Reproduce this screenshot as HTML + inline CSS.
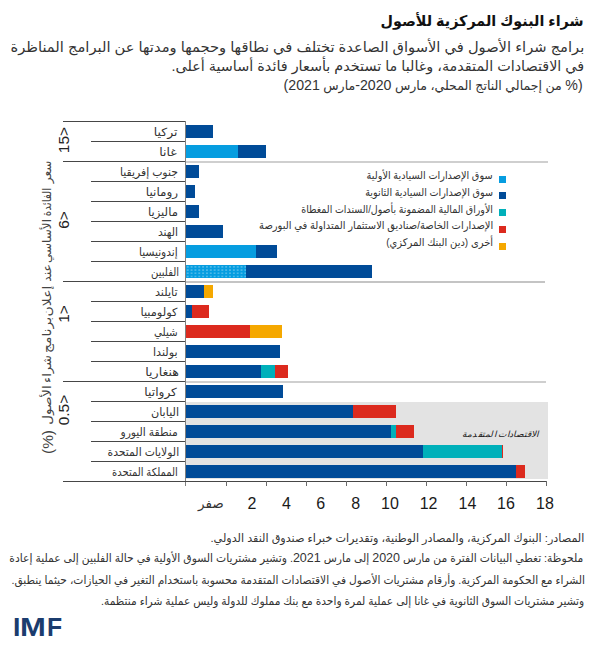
<!DOCTYPE html>
<html lang="ar"><head><meta charset="utf-8"><title>شراء البنوك المركزية للأصول</title>
<style>
html,body{margin:0;padding:0;background:#fff;}
body{width:600px;height:650px;position:relative;overflow:hidden;font-family:"Liberation Sans","DejaVu Sans",sans-serif;color:#1a1a1a;}
.t{position:absolute;white-space:nowrap;direction:rtl;line-height:1;transform-origin:100% 50%;color:#333;}
#title{color:#111;}
#adv{color:#1a1a1a;}
.n{font-family:"Liberation Sans",sans-serif;font-size:13px;line-height:0;}
.ln{position:absolute;height:1px;background:#464646;}
.gl{position:absolute;height:1.5px;background:#cfcfcf;}
.bar{position:absolute;height:13px;}
.num{position:absolute;font-size:16px;line-height:1;white-space:nowrap;transform:translateX(-50%);}
.rot{position:absolute;white-space:nowrap;line-height:1;color:#222;}
[id^=ax]{color:#444;}
.sw{position:absolute;left:499px;width:7px;height:7px;}
.logo{position:absolute;top:615.4px;font-family:'Liberation Sans',sans-serif;font-weight:bold;font-size:24.9px;line-height:1;color:#1b3c6e;transform-origin:0 50%;}
</style></head><body>

<div style="position:absolute;left:186px;top:402px;width:362px;height:77px;background:#e3e3e3;"></div>
<div class="gl" style="left:186px;top:161px;width:362px;"></div>
<div class="gl" style="left:186px;top:281px;width:359px;background:#c4c4c4"></div>
<div class="gl" style="left:186px;top:381px;width:360px;"></div>
<div class="ln" style="left:63px;top:121px;width:123px;"></div>
<div class="ln" style="left:91px;top:141px;width:95px;"></div>
<div class="ln" style="left:63px;top:161px;width:123px;"></div>
<div class="ln" style="left:91px;top:181px;width:95px;"></div>
<div class="ln" style="left:91px;top:201px;width:95px;"></div>
<div class="ln" style="left:91px;top:221px;width:95px;"></div>
<div class="ln" style="left:91px;top:241px;width:95px;"></div>
<div class="ln" style="left:91px;top:261px;width:95px;"></div>
<div class="ln" style="left:63px;top:281px;width:123px;"></div>
<div class="ln" style="left:91px;top:301px;width:95px;"></div>
<div class="ln" style="left:91px;top:321px;width:95px;"></div>
<div class="ln" style="left:91px;top:341px;width:95px;"></div>
<div class="ln" style="left:91px;top:361px;width:95px;"></div>
<div class="ln" style="left:63px;top:381px;width:123px;"></div>
<div class="ln" style="left:91px;top:401px;width:95px;"></div>
<div class="ln" style="left:91px;top:421px;width:95px;"></div>
<div class="ln" style="left:91px;top:441px;width:95px;"></div>
<div class="ln" style="left:91px;top:461px;width:95px;"></div>
<div class="ln" style="left:63px;top:481px;width:123px;"></div>
<div class="ln" style="left:185px;top:121px;width:1px;height:365px;background:#808080;"></div>
<div class="ln" style="left:185px;top:481px;width:361px;"></div>
<div class="ln" style="left:225.5px;top:481px;width:1px;height:5px;background:#6a6a6a;"></div>
<div class="ln" style="left:265.5px;top:481px;width:1px;height:5px;background:#6a6a6a;"></div>
<div class="ln" style="left:305.5px;top:481px;width:1px;height:5px;background:#6a6a6a;"></div>
<div class="ln" style="left:345.5px;top:481px;width:1px;height:5px;background:#6a6a6a;"></div>
<div class="ln" style="left:385.5px;top:481px;width:1px;height:5px;background:#6a6a6a;"></div>
<div class="ln" style="left:425.5px;top:481px;width:1px;height:5px;background:#6a6a6a;"></div>
<div class="ln" style="left:465.5px;top:481px;width:1px;height:5px;background:#6a6a6a;"></div>
<div class="ln" style="left:505.5px;top:481px;width:1px;height:5px;background:#6a6a6a;"></div>
<div class="ln" style="left:545.5px;top:481px;width:1px;height:5px;background:#6a6a6a;"></div>
<div class="bar" style="left:186.00px;top:125px;width:27.37px;background:#004b98;"></div>
<div class="bar" style="left:186.00px;top:145px;width:51.95px;background:#069de0;"></div>
<div class="bar" style="left:237.95px;top:145px;width:27.97px;background:#004b98;"></div>
<div class="bar" style="left:186.00px;top:165px;width:13.39px;background:#004b98;"></div>
<div class="bar" style="left:186.00px;top:185px;width:8.79px;background:#004b98;"></div>
<div class="bar" style="left:186.00px;top:205px;width:13.39px;background:#004b98;"></div>
<div class="bar" style="left:186.00px;top:225px;width:36.56px;background:#004b98;"></div>
<div class="bar" style="left:186.00px;top:245px;width:69.93px;background:#069de0;"></div>
<div class="bar" style="left:255.93px;top:245px;width:20.98px;background:#004b98;"></div>
<div class="bar" style="left:186.00px;top:265px;width:59.94px;background:#069de0;background-image:radial-gradient(circle,rgba(255,255,255,.5) 0 0.45px,transparent 0.85px);background-size:3.85px 3.2px;background-position:-0.2px 0.3px;"></div>
<div class="bar" style="left:245.94px;top:265px;width:125.87px;background:#004b98;"></div>
<div class="bar" style="left:186.00px;top:285px;width:17.98px;background:#004b98;"></div>
<div class="bar" style="left:203.98px;top:285px;width:8.79px;background:#f5a800;"></div>
<div class="bar" style="left:186.00px;top:305px;width:5.79px;background:#004b98;"></div>
<div class="bar" style="left:191.79px;top:305px;width:16.78px;background:#dc2a1e;"></div>
<div class="bar" style="left:186.00px;top:325px;width:63.94px;background:#dc2a1e;"></div>
<div class="bar" style="left:249.94px;top:325px;width:32.37px;background:#f5a800;"></div>
<div class="bar" style="left:186.00px;top:345px;width:93.91px;background:#004b98;"></div>
<div class="bar" style="left:186.00px;top:365px;width:74.93px;background:#004b98;"></div>
<div class="bar" style="left:260.93px;top:365px;width:14.39px;background:#00b0ba;"></div>
<div class="bar" style="left:275.31px;top:365px;width:12.59px;background:#dc2a1e;"></div>
<div class="bar" style="left:186.00px;top:385px;width:97.10px;background:#004b98;"></div>
<div class="bar" style="left:186.00px;top:405px;width:167.43px;background:#004b98;"></div>
<div class="bar" style="left:353.43px;top:405px;width:42.36px;background:#dc2a1e;"></div>
<div class="bar" style="left:186.00px;top:425px;width:205.19px;background:#004b98;"></div>
<div class="bar" style="left:391.19px;top:425px;width:4.99px;background:#00b0ba;"></div>
<div class="bar" style="left:396.19px;top:425px;width:17.58px;background:#dc2a1e;"></div>
<div class="bar" style="left:186.00px;top:445px;width:237.36px;background:#004b98;"></div>
<div class="bar" style="left:423.36px;top:445px;width:78.32px;background:#00b0ba;"></div>
<div class="bar" style="left:501.68px;top:445px;width:1.00px;background:#dc2a1e;"></div>
<div class="bar" style="left:186.00px;top:465px;width:329.67px;background:#004b98;"></div>
<div class="bar" style="left:515.67px;top:465px;width:9.79px;background:#dc2a1e;"></div>
<div class="sw" style="top:175.5px;background:#069de0;"></div>
<div class="sw" style="top:192.3px;background:#004b98;"></div>
<div class="sw" style="top:209.1px;background:#00b0ba;"></div>
<div class="sw" style="top:225.9px;background:#dc2a1e;"></div>
<div class="sw" style="top:242.7px;background:#f5a800;"></div>
<div class="t" id="title" style="right:16.20px;top:13.57px;font-size:14.8px;font-weight:bold;transform:scaleX(0.9686);">شراء البنوك المركزية للأصول</div>
<div class="t" id="l1" style="right:16.00px;top:40.08px;font-size:14.2px;transform:scaleX(1.0353);">برامج شراء الأصول في الأسواق الصاعدة تختلف في نطاقها وحجمها ومدتها عن البرامج المناظرة</div>
<div class="t" id="l2" style="right:16.00px;top:59.08px;font-size:14.2px;transform:scaleX(1.0136);">في الاقتصادات المتقدمة، وغالبا ما تستخدم بأسعار فائدة أساسية أعلى.</div>
<div class="t" id="l3" style="right:17.00px;top:80.08px;font-size:12.9px;transform:scaleX(0.9753);"><span class="n" style="font-size:14.5px">(%</span> من إجمالي الناتج المحلي، مارس <span class="n" style="font-size:14.5px">2020-</span>مارس <span class="n" style="font-size:14.5px">2021)</span></div>
<div class="t" id="lab0" style="right:422.20px;top:126.92px;font-size:11.2px;transform:scaleX(1.1039);">تركيا</div>
<div class="t" id="lab1" style="right:423.20px;top:146.92px;font-size:11.2px;transform:scaleX(1.1135);">غانا</div>
<div class="t" id="lab2" style="right:422.20px;top:166.92px;font-size:11.2px;transform:scaleX(0.9670);">جنوب إفريقيا</div>
<div class="t" id="lab3" style="right:422.20px;top:186.92px;font-size:11.2px;transform:scaleX(1.0721);">رومانيا</div>
<div class="t" id="lab4" style="right:422.20px;top:206.92px;font-size:11.2px;transform:scaleX(1.0370);">ماليزيا</div>
<div class="t" id="lab5" style="right:422.20px;top:226.92px;font-size:11.2px;transform:scaleX(0.9550);">الهند</div>
<div class="t" id="lab6" style="right:422.20px;top:246.92px;font-size:11.2px;transform:scaleX(0.9507);">إندونيسيا</div>
<div class="t" id="lab7" style="right:421.20px;top:266.92px;font-size:11.2px;transform:scaleX(0.9013);">الفلبين</div>
<div class="t" id="lab8" style="right:422.20px;top:286.92px;font-size:11.2px;transform:scaleX(1.0026);">تايلند</div>
<div class="t" id="lab9" style="right:422.20px;top:306.92px;font-size:11.2px;transform:scaleX(1.0157);">كولومبيا</div>
<div class="t" id="lab10" style="right:422.20px;top:326.92px;font-size:11.2px;transform:scaleX(0.9241);">شيلي</div>
<div class="t" id="lab11" style="right:422.20px;top:346.92px;font-size:11.2px;transform:scaleX(1.0019);">بولندا</div>
<div class="t" id="lab12" style="right:421.20px;top:366.92px;font-size:11.2px;transform:scaleX(1.1255);">هنغاريا</div>
<div class="t" id="lab13" style="right:423.20px;top:386.92px;font-size:11.2px;transform:scaleX(1.0881);">كرواتيا</div>
<div class="t" id="lab14" style="right:421.20px;top:406.92px;font-size:11.2px;transform:scaleX(1.0017);">اليابان</div>
<div class="t" id="lab15" style="right:422.20px;top:426.92px;font-size:11.2px;transform:scaleX(0.9589);">منطقة اليورو</div>
<div class="t" id="lab16" style="right:421.20px;top:446.92px;font-size:11.2px;transform:scaleX(0.9662);">الولايات المتحدة</div>
<div class="t" id="lab17" style="right:422.20px;top:466.92px;font-size:11.2px;transform:scaleX(0.8906);">المملكة المتحدة</div>
<div class="t" id="leg0" style="right:107.00px;top:169.73px;font-size:10.6px;transform:scaleX(0.9155);">سوق الإصدارات السيادية الأولية</div>
<div class="t" id="leg1" style="right:107.00px;top:186.63px;font-size:10.6px;transform:scaleX(0.9065);">سوق الإصدارات السيادية الثانوية</div>
<div class="t" id="leg2" style="right:107.00px;top:203.53px;font-size:10.6px;transform:scaleX(0.8920);">الأوراق المالية المضمونة بأصول/السندات المغطاة</div>
<div class="t" id="leg3" style="right:107.00px;top:220.43px;font-size:10.6px;transform:scaleX(0.9358);">الإصدارات الخاصة/صناديق الاستثمار المتداولة في البورصة</div>
<div class="t" id="leg4" style="right:107.00px;top:237.33px;font-size:10.6px;transform:scaleX(0.9375);">أخرى (دين البنك المركزي)</div>
<div class="t" id="note0" style="right:15.40px;top:532.92px;font-size:11.2px;transform:scaleX(0.9987);">المصادر: البنوك المركزية، والمصادر الوطنية، وتقديرات خبراء صندوق النقد الدولي.</div>
<div class="t" id="note1" style="right:16.40px;top:553.42px;font-size:11.2px;transform:scaleX(0.9610);">ملحوظة: تغطي البيانات الفترة من مارس <span class="n">2020</span> إلى مارس <span class="n">2021</span>. وتشير مشتريات السوق الأولية في حالة الفلبين إلى عملية إعادة</div>
<div class="t" id="note2" style="right:15.40px;top:574.52px;font-size:11.2px;transform:scaleX(0.9543);">الشراء مع الحكومة المركزية. وأرقام مشتريات الأصول في الاقتصادات المتقدمة محسوبة باستخدام التغير في الحيازات، حيثما ينطبق.</div>
<div class="t" id="note3" style="right:15.40px;top:595.52px;font-size:11.2px;transform:scaleX(0.9507);">وتشير مشتريات السوق الثانوية في غانا إلى عملية لمرة واحدة مع بنك مملوك للدولة وليس عملية شراء منتظمة.</div>
<div class="t" id="adv" style="right:61.60px;top:429.72px;font-size:8.6px;font-style:italic;transform:scaleX(1.0568);">الاقتصادات المتقدمة</div>
<div class="t" id="zero" style="right:376.40px;top:496.50px;font-size:13px;transform:scaleX(1.0429);">صفر</div>
<div class="num" style="left:252px;top:495.96px;">2</div>
<div class="num" style="left:286.5px;top:495.96px;">4</div>
<div class="num" style="left:320.8px;top:495.96px;">6</div>
<div class="num" style="left:355.6px;top:495.96px;">8</div>
<div class="num" style="left:390px;top:495.96px;">10</div>
<div class="num" style="left:428.6px;top:495.96px;">12</div>
<div class="num" style="left:467.5px;top:495.96px;">14</div>
<div class="num" style="left:506px;top:495.96px;">16</div>
<div class="num" style="left:545px;top:495.96px;">18</div>
<div class="rot" id="g15" dir="ltr" style="left:63.5px;top:140.20px;font-size:15.5px;transform:translate(-50%,-50%) rotate(-90deg) scaleX(1.0000);">15&gt;</div>
<div class="rot" id="g6" dir="ltr" style="left:63.5px;top:219.60px;font-size:15.5px;transform:translate(-50%,-50%) rotate(-90deg) scaleX(1.0000);">6&gt;</div>
<div class="rot" id="g1" dir="ltr" style="left:63.5px;top:313.80px;font-size:15.5px;transform:translate(-50%,-50%) rotate(-90deg) scaleX(1.0000);">1&gt;</div>
<div class="rot" id="g05" dir="ltr" style="left:63.5px;top:410.40px;font-size:15.5px;transform:translate(-50%,-50%) rotate(-90deg) scaleX(1.0000);">0.5&gt;</div>
<div class="rot" id="ax0" dir="rtl" style="left:46.8px;top:172.00px;font-size:12px;transform:translate(-50%,-50%) rotate(-90deg) scaleX(1.0000);">سعر</div>
<div class="rot" id="ax1" dir="rtl" style="left:46.8px;top:201.50px;font-size:12px;transform:translate(-50%,-50%) rotate(-90deg) scaleX(0.8710);">الفائدة</div>
<div class="rot" id="ax2" dir="rtl" style="left:46.8px;top:241.00px;font-size:12px;transform:translate(-50%,-50%) rotate(-90deg) scaleX(1.0000);">الأساسي</div>
<div class="rot" id="ax3" dir="rtl" style="left:46.8px;top:273.00px;font-size:12px;transform:translate(-50%,-50%) rotate(-90deg) scaleX(1.0355);">عند</div>
<div class="rot" id="ax4" dir="rtl" style="left:46.8px;top:300.50px;font-size:12px;transform:translate(-50%,-50%) rotate(-90deg) scaleX(1.1681);">إعلان</div>
<div class="rot" id="ax5" dir="rtl" style="left:46.8px;top:335.00px;font-size:12px;transform:translate(-50%,-50%) rotate(-90deg) scaleX(1.1567);">برنامج</div>
<div class="rot" id="ax6" dir="rtl" style="left:46.8px;top:369.00px;font-size:12px;transform:translate(-50%,-50%) rotate(-90deg) scaleX(1.0833);">شراء</div>
<div class="rot" id="ax7" dir="rtl" style="left:46.8px;top:405.00px;font-size:12px;transform:translate(-50%,-50%) rotate(-90deg) scaleX(1.1176);">الأصول</div>
<div class="rot" id="axp" dir="rtl" style="left:47px;top:441.70px;font-size:15px;transform:translate(-50%,-50%) rotate(-90deg) scaleX(1.0268);">(%)</div>
<div class="logo" id="lI" style="left:12.60px;transform:scaleX(1.0667);">I</div>
<div class="logo" id="lM" style="left:19.90px;transform:scaleX(1.2465);">M</div>
<div class="logo" id="lF" style="left:46.70px;transform:scaleX(0.9933);">F</div>
</body></html>
